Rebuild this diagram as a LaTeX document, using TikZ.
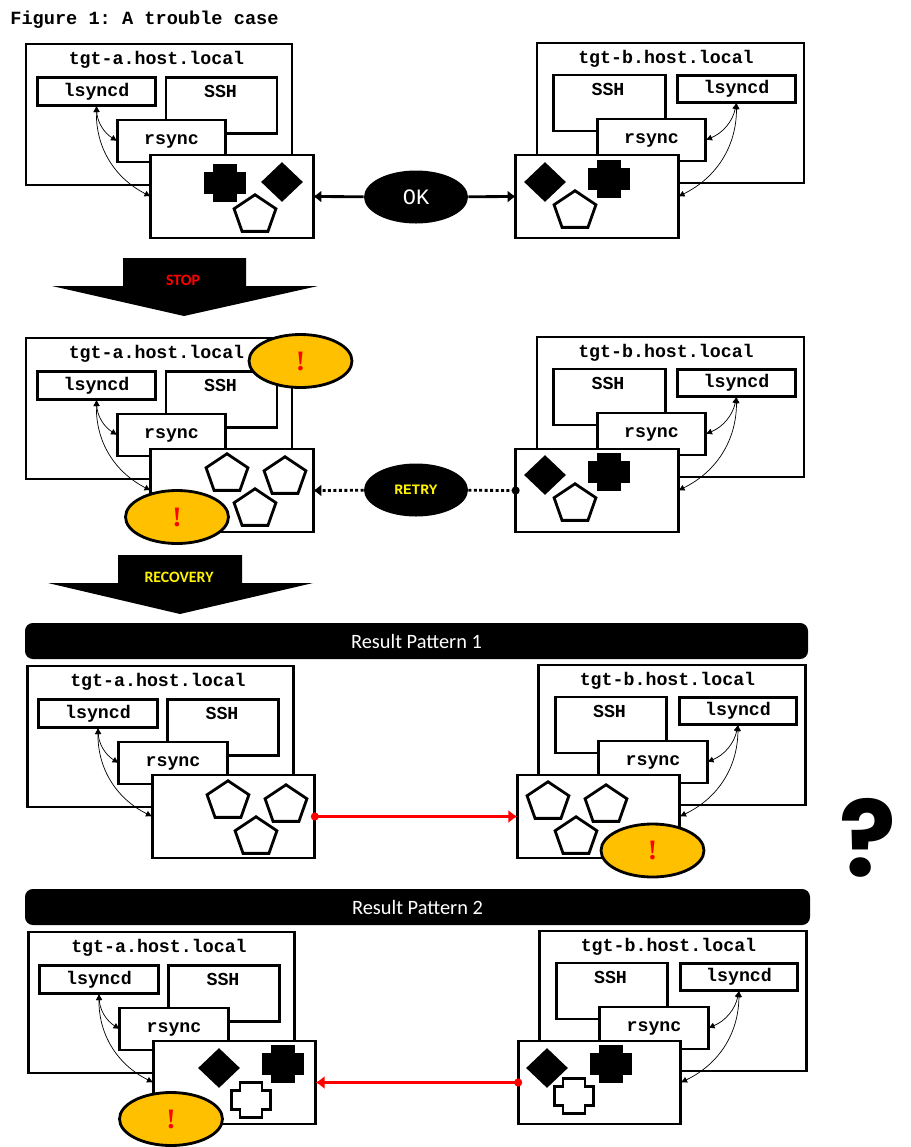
\documentclass[tikz,border=0pt]{standalone}
\usepackage{fontspec}
\setmonofont{Liberation Mono}
\setsansfont{Carlito}
\setmainfont{Liberation Serif}
\newfontfamily\markfont{Poppins}
\usetikzlibrary{shapes.geometric,arrows.meta}
\definecolor{alertgold}{HTML}{FFC000}
\tikzset{
	boxsize/.style 2 args={minimum width=#1*0.02cm, minimum height=#2*0.02cm},
	box/.style={draw, fill=white, line width=1.6pt, inner sep=0pt, outer sep=0pt},
	hosttext/.style={font=\fontsize{10.4}{12}\selectfont\ttfamily\bfseries},
	link/.style={line width=0.4pt, {Latex[length=3.6pt,width=3.6pt]}-{Latex[length=3.6pt,width=3.6pt]}},
	pentagon/.style={draw, fill=white, line width=1.6pt, regular polygon, regular polygon sides=5, inner sep=0pt, minimum size=44*0.02cm, transform shape, yscale=0.92},
	blackdiamond/.style={fill=black, diamond, inner sep=0pt, boxsize={#1}{40}},
	blackdiamond/.default=42,
	alert/.style={draw, fill=alertgold, line width=1.6pt, ellipse, inner sep=0pt, boxsize={103}{53}, text=red, font=\fontsize{16}{16}\selectfont\bfseries},
	state/.style={fill=black, ellipse, inner sep=0pt, boxsize={104}{53}},
	thickline/.style={line width=1.6pt, -{Latex[length=4.6pt,width=7pt]}},
	redline/.style={red, line width=1.6pt, {Circle[length=4.5pt]}-{Latex[length=5pt,width=7.5pt]}, shorten <=-2.2pt},
	banner/.style={fill=black, rounded corners=4.5pt, inner sep=0pt, text=white, font=\fontsize{11.6}{13}\selectfont\sffamily},
	bigtext/.style={font=\fontsize{9}{11}\selectfont\sffamily\bfseries},
	plusmark/.pic={
		\draw[line width=1.6pt, fill=#1] (-11,-17.5) -- (11,-17.5) -- (11,-9.5) -- (19.5,-9.5) -- (19.5,9.5) -- (11,9.5) -- (11,17.5) -- (-11,17.5) -- (-11,9.5) -- (-19.5,9.5) -- (-19.5,-9.5) -- (-11,-9.5) -- cycle;
	}
}
\newcommand{\hostleft}[4]{
	\begin{scope}[shift={(#2,#3)}]
		\node [box, boxsize={266}{141}] (#1host) at (159,114.5) {};
		\node [hosttext] (#1name) at (156.5,60) {tgt-a.host.local};
		\node [box, boxsize={118.5}{28.5}, hosttext] (#1lsyncd) at (96.5,91.5) {lsyncd};
		\node [box, boxsize={111}{56.5}] (#1ssh) at (221.5,105.5) {};
		\node [hosttext] (#1sshname) at (220.5,91) {SSH};
		\node [box, boxsize={108.5}{42}, hosttext] (#1rsync) at (171.5,141) {rsync};
	\end{scope}
	\node [box, boxsize={162.5}{83}] (#1data) at (232+#2,196.5+#4) {};
	\draw [link] (#1lsyncd.south) to[bend right=28] (#1rsync.west);
	\draw [link] (#1lsyncd.south) to[bend right=32] (#1data.west);
}
\newcommand{\hostright}[4]{
	\begin{scope}[shift={(#2,#3)}]
		\node [box, boxsize={267}{140}] (#1host) at (670.5,113) {};
		\node [hosttext] (#1name) at (666,59) {tgt-b.host.local};
		\node [box, boxsize={117.5}{27.5}, hosttext] (#1lsyncd) at (736.5,89) {lsyncd};
		\node [box, boxsize={111.5}{56}] (#1ssh) at (609.5,103) {};
		\node [hosttext] (#1sshname) at (608,89) {SSH};
		\node [box, boxsize={108.5}{42}, hosttext] (#1rsync) at (651.5,140) {rsync};
	\end{scope}
	\node [box, boxsize={162.5}{83}] (#1data) at (597+#2,196.5+#4) {};
	\draw [link] (#1lsyncd.south) to[bend left=28] (#1rsync.east);
	\draw [link] (#1lsyncd.south) to[bend left=32] (#1data.east);
}
\begin{document}
\begin{tikzpicture}[x=0.02cm,y=-0.02cm]
	\useasboundingbox (0,0) rectangle (911,1147);
	\node [anchor=west, inner sep=0pt, font=\fontsize{10.6}{12}\selectfont\ttfamily\bfseries] (title) at (10,20) {Figure 1: A trouble case};

	\hostleft{a1}{0}{0}{0}
	\hostright{b1}{0}{0}{0}
	\pic at (225,183) {plusmark=black};
	\node [blackdiamond] (a1d) at (282,182) {};
	\node [pentagon] (a1p) at (255,215) {};
	\node [blackdiamond] (b1d) at (545,182) {};
	\pic at (609,179) {plusmark=black};
	\node [pentagon] (b1p) at (575,211) {};
	\node [state, text=white, font=\fontsize{12.5}{14}\selectfont\ttfamily] (ok) at (416,197) {OK};
	\draw [thickline] (ok) -- (a1data.east);
	\draw [thickline] (ok) -- (b1data.west);

	\fill (123,258) -- (246,258) -- (246,286) -- (318,286) -- (184,316) -- (52,286) -- (123,286) -- cycle;
	\node [bigtext, text=red] (stop) at (183,280) {STOP};

	\hostleft{a2}{0}{294}{294}
	\hostright{b2}{0}{294}{294}
	\node [pentagon] (a2p1) at (227,474) {};
	\node [pentagon] (a2p2) at (285,477) {};
	\node [pentagon] (a2p3) at (255,509) {};
	\node [blackdiamond] (b2d) at (545,475) {};
	\pic at (609,472) {plusmark=black};
	\node [pentagon] (b2p) at (575,504) {};
	\node [alert] (a2top) at (300.5,361) {!};
	\node [alert] (a2low) at (177,517) {!};
	\node [state, text=yellow, font=\fontsize{8.2}{10}\selectfont\ttfamily\bfseries] (retry) at (416,490) {RETRY};
	\draw [thickline, dash pattern=on 1.7pt off 1.4pt] (retry) -- (a2data.east);
	\draw [line width=1.6pt, dash pattern=on 1.7pt off 1.4pt, -{Circle[length=4.5pt]}, shorten >=-2.2pt] (retry) -- (b2data.west);

	\fill (118,555) -- (242,555) -- (242,583) -- (313,583) -- (180,614) -- (48,583) -- (118,583) -- cycle;
	\node [bigtext, text=yellow] (recovery) at (179,577) {RECOVERY};

	\node [banner, boxsize={783}{36}] (pattern1) at (416.5,641) {Result Pattern 1};
	\hostleft{a3}{1.5}{622}{620}
	\hostright{b3}{1.5}{622}{620}
	\node [pentagon] (a3p1) at (228,801) {};
	\node [pentagon] (a3p2) at (286,805) {};
	\node [pentagon] (a3p3) at (256,837) {};
	\node [pentagon] (b3p1) at (548,802) {};
	\node [pentagon] (b3p2) at (606,805) {};
	\node [pentagon] (b3p3) at (576,837) {};
	\node [alert] (b3low) at (652.5,850.5) {!};
	\draw [redline] (a3data.east) -- (b3data.west);

	\node [banner, boxsize={785}{36}] (pattern2) at (417.5,907) {Result Pattern 2};
	\hostleft{a4}{2.5}{888}{886}
	\hostright{b4}{2.5}{888}{886}
	\node [blackdiamond] (a4d) at (219,1068) {};
	\pic at (283,1064) {plusmark=black};
	\pic at (251,1100) {plusmark=white};
	\node [blackdiamond] (b4d) at (547,1068) {};
	\pic at (611,1064) {plusmark=black};
	\pic at (574,1096) {plusmark=white};
	\node [alert] (a4low) at (171,1119) {!};
	\draw [redline] (b4data.west) -- (a4data.east);

	\node [font=\fontsize{60}{60}\selectfont\markfont\bfseries] (question) at (868,838) {?};
\end{tikzpicture}
\end{document}
